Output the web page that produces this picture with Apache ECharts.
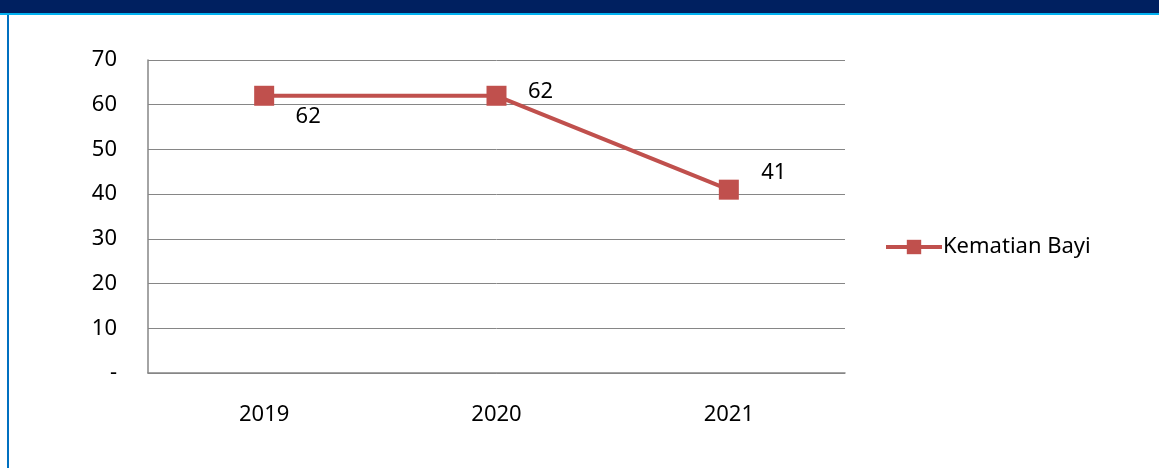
<!DOCTYPE html>
<html>
<head>
<meta charset="utf-8">
<script src="https://cdn.jsdelivr.net/npm/echarts@6/dist/echarts.min.js"></script>
<style>
html,body{margin:0;padding:0;background:#fff;}
#c{width:1159px;height:468px;}
</style>
</head>
<body>
<div id="c"></div>
<script>
const categories = ['2019', '2020', '2021'];
const seriesName = 'Kematian Bayi';
const values = [62, 62, 41];
const yTickLabels = ['-', '10', '20', '30', '40', '50', '60', '70'];
const labelOffsets = [[44, 21], [44, -4], [45, -17]];

const FONT = 'Noto Sans';
const FS = 22;
const chart = echarts.init(document.getElementById('c'), null, {renderer: 'canvas'});
chart.setOption({
  backgroundColor: '#ffffff',
  animation: false,
  graphic: [
    {type: 'rect', shape: {x: 0, y: 0, width: 1159, height: 13}, style: {fill: '#002060'}, silent: true},
    {type: 'rect', shape: {x: 0, y: 13, width: 1159, height: 2}, style: {fill: '#00B0F0'}, silent: true},
    {type: 'rect', shape: {x: 7, y: 15, width: 2, height: 453}, style: {fill: '#0070C0'}, silent: true}
  ],
  grid: {left: 148, right: 314, top: 60, bottom: 95, containLabel: false},
  legend: {
    data: [{name: seriesName, itemStyle: {color: '#C0504D'}}],
    left: 879,
    top: 231,
    orient: 'vertical',
    itemWidth: 56,
    itemHeight: 18,
    itemGap: 3,
    lineStyle: {width: 4},
    textStyle: {fontFamily: FONT, fontSize: FS, color: '#000', padding: [0, 0, 0, -4]}
  },
  xAxis: {
    type: 'category',
    data: categories,
    boundaryGap: true,
    axisLine: {show: true, lineStyle: {color: '#868686', width: 1.5}},
    axisTick: {show: false},
    axisLabel: {fontFamily: FONT, fontSize: FS, color: '#000', margin: 31}
  },
  yAxis: {
    type: 'value',
    min: 0, max: 70, interval: 10,
    axisLine: {show: true, lineStyle: {color: '#868686', width: 1.5}},
    axisTick: {show: false},
    splitLine: {show: true, lineStyle: {color: '#868686', width: 1}},
    axisLabel: {
      fontFamily: FONT, fontSize: FS, color: '#000', margin: 31,
      formatter: function (v) { return yTickLabels[Math.round(v / 10)]; }
    }
  },
  series: [{
    name: seriesName,
    type: 'line',
    data: values.map((v, i) => ({
      value: v,
      label: {show: true, position: 'inside', offset: labelOffsets[i]}
    })),
    symbol: 'rect',
    symbolSize: 20,
    lineStyle: {color: '#C0504D', width: 4},
    itemStyle: {color: '#C0504D'},
    label: {fontFamily: FONT, fontSize: FS, color: '#000'}
  }]
});
</script>
</body>
</html>
